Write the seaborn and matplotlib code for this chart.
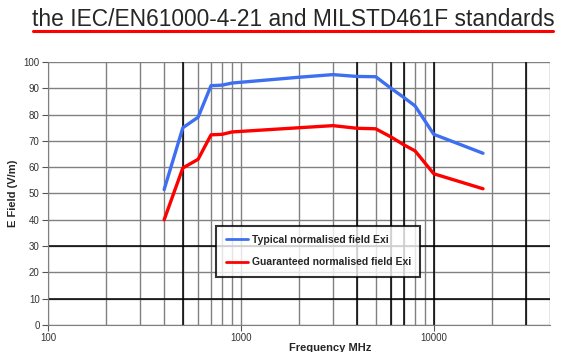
import pandas as pd
import matplotlib.pyplot as plt
import seaborn as sns
from matplotlib.ticker import LogLocator, NullFormatter, FixedLocator

# datos
freq_mhz = [400, 500, 600, 700, 800, 900, 2000, 3000, 4000, 5000, 6000, 7000, 8000, 10000, 18000]
typical_exi = [51.5, 75, 79, 91, 91.2, 92, 94.2, 95.2, 94.5, 94.4, 90, 86.5, 83.3, 72.5, 65.3]
guaranteed_exi = [40, 59.7, 63, 72.3, 72.5, 73.4, 75, 75.8, 74.8, 74.6, 71.5, 68.5, 66.2, 57.5, 51.8]
series_names = ["Typical normalised field Exi", "Guaranteed normalised field Exi"]
x_ticks = [100, 1000, 10000]
y_ticks = list(range(0, 101, 10))

df = pd.DataFrame({
    "freq": freq_mhz * 2,
    "field": typical_exi + guaranteed_exi,
    "serie": [series_names[0]] * len(freq_mhz) + [series_names[1]] * len(freq_mhz),
})

sns.set_style("white")
plt.rcParams["font.family"] = ["Liberation Sans", "DejaVu Sans"]

fig = plt.figure(figsize=(5.69, 3.52), dpi=100)
ax = fig.add_axes([0.0844, 0.0767, 0.882, 0.7472])

# rejilla: gris con algunas lineas negras
ax.set_xscale("log")
ax.set_xlim(100, 40000)
ax.set_ylim(0, 100)
ax.xaxis.set_major_locator(FixedLocator(x_ticks))
ax.xaxis.set_minor_locator(LogLocator(base=10, subs=range(2, 10)))
ax.xaxis.set_minor_formatter(NullFormatter())
ax.set_xticklabels([str(t) for t in x_ticks])
ax.set_yticks(y_ticks)
ax.grid(True, which="both", axis="x", color="#808080", lw=1)
ax.grid(True, which="major", axis="y", color="#808080", lw=1)
for xv in [500, 4000, 6000, 7000, 10000, 30000]:
    ax.axvline(xv, color="black", lw=1.1, zorder=1)
for yv in [10, 30]:
    ax.axhline(yv, color="black", lw=1.1, zorder=1)
ax.set_axisbelow(True)

sns.lineplot(data=df, x="freq", y="field", hue="serie",
             palette=["#3d6ff0", "#ff0000"], linewidth=2.4, ax=ax, zorder=3)

for s in ["top", "right"]:
    ax.spines[s].set_visible(False)
ax.spines["left"].set_color("#808080")
ax.spines["bottom"].set_color("#808080")
ax.tick_params(axis="both", which="major", length=4, color="#555555",
               labelsize=7, labelcolor="#333333", left=True, bottom=True, pad=2)
ax.tick_params(axis="x", which="minor", length=0)

ax.set_xlabel("Frequency MHz", fontsize=8, fontweight="bold")
ax.xaxis.set_label_coords(0.562, -0.068)
ax.set_ylabel("E Field (V/m)", fontsize=8, fontweight="bold", labelpad=4)

leg = ax.legend(loc="lower left", bbox_to_anchor=(0.335, 0.183), frameon=True,
                fancybox=False, handlelength=2.2, handletextpad=0.3,
                labelspacing=1.2, borderpad=0.9, borderaxespad=0,
                prop={"weight": "bold", "size": 7.5})
leg.get_frame().set_edgecolor("black")
leg.get_frame().set_linewidth(1.5)
for line in leg.get_lines():
    line.set_linewidth(2)

# titulo con subrayado rojo
fig.text(0.515, 0.946, "the IEC/EN61000-4-21 and MILSTD461F standards",
         ha="center", va="center", fontsize=16.4)
fig.add_artist(plt.Line2D([0.058, 0.972], [0.912, 0.912], color="red", lw=2.2))

fig.savefig("out.png", dpi=100)
